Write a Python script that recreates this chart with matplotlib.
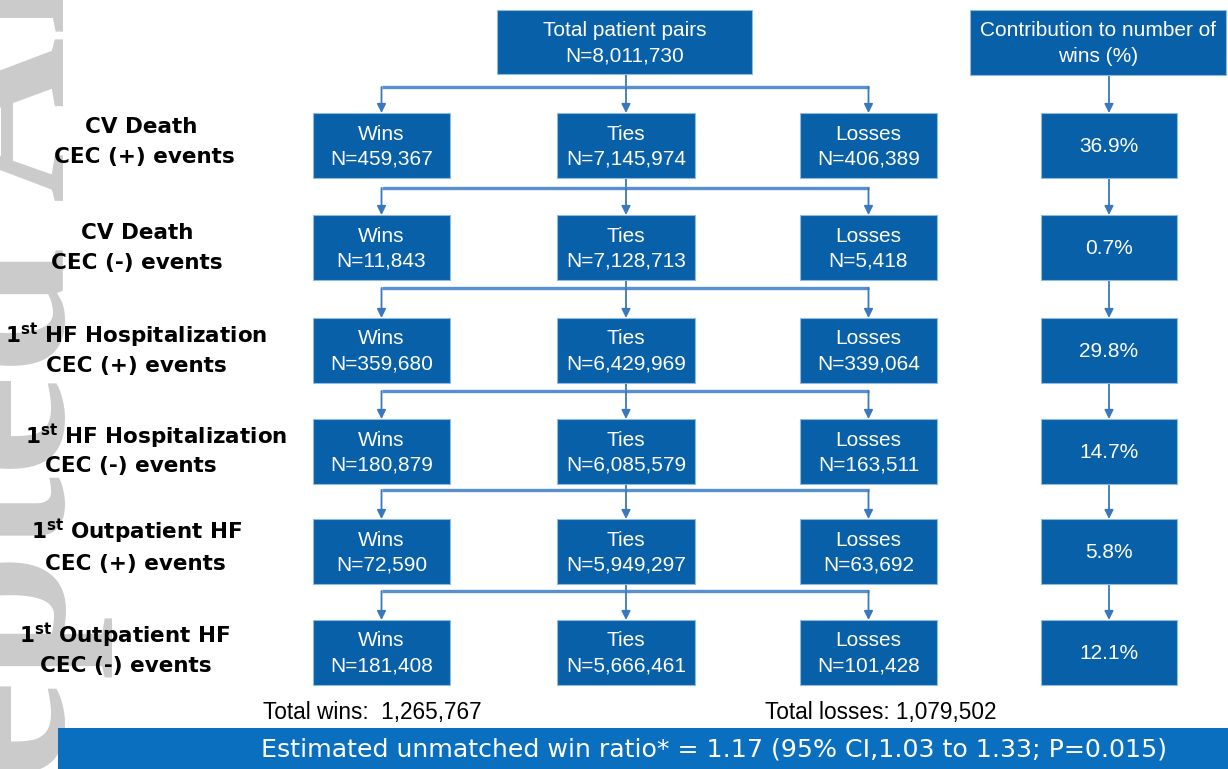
import matplotlib
matplotlib.use("Agg")
import matplotlib.pyplot as plt
from matplotlib.patches import Rectangle

# ---------------- data ----------------
row_line1 = ["CV Death", "CV Death", r"1$^{\mathbf{st}}$ HF Hospitalization",
             r"1$^{\mathbf{st}}$ HF Hospitalization", r"1$^{\mathbf{st}}$ Outpatient HF",
             r"1$^{\mathbf{st}}$ Outpatient HF"]
row_line2 = ["CEC (+) events", "CEC (-) events", "CEC (+) events",
             "CEC (-) events", "CEC (+) events", "CEC (-) events"]
wins = [459367, 11843, 359680, 180879, 72590, 181408]
ties = [7145974, 7128713, 6429969, 6085579, 5949297, 5666461]
losses = [406389, 5418, 339064, 163511, 63692, 101428]
contrib_pct = [36.9, 0.7, 29.8, 14.7, 5.8, 12.1]
total_pairs = 8011730
total_wins = 1265767
total_losses = 1079502
header_left = "Total patient pairs"
header_right = "Contribution to number of\nwins (%)"
banner_text = "Estimated unmatched win ratio* = 1.17 (95% CI,1.03 to 1.33; P=0.015)"
watermark = "Accepted Article"

# ---------------- style ----------------
BOX = "#0860a8"
EDGE = "#8fbbe3"
LINE = "#3a78bd"
LINE_H = "#5890cf"
BANNER = "#0b6fbf"
BOXFONT = "Liberation Sans"

fig = plt.figure(figsize=(12.28, 7.69), dpi=100)
ax = fig.add_axes([0, 0, 1, 1])
ax.set_xlim(0, 1228)
ax.set_ylim(769, 0)
ax.axis("off")

# watermark (partly outside the picture, as in the reference)
ax.text(64, 1150, watermark, rotation=90, rotation_mode="anchor", ha="left",
        va="baseline", fontsize=165, family="Liberation Serif", fontweight="bold",
        color="#cbcbcb", zorder=0)


def box(x0, x1, y0, y1, text, fs=15):
    ax.add_patch(Rectangle((x0, y0), x1 - x0, y1 - y0, facecolor=BOX,
                           edgecolor=EDGE, lw=0.8, zorder=2))
    ax.text((x0 + x1) / 2, (y0 + y1) / 2 + 1, text, ha="center", va="center",
            color="white", fontsize=fs, family=BOXFONT, linespacing=1.4,
            zorder=3)


def arrow(x, y_from, y_to):
    ax.annotate("", xy=(x, y_to), xytext=(x, y_from),
                arrowprops=dict(arrowstyle="-|>", color=LINE, lw=1.3,
                                mutation_scale=13, shrinkA=0, shrinkB=0),
                zorder=1)


def hline(x0, x1, y):
    ax.plot([x0, x1], [y, y], color=LINE_H, lw=2.4, solid_capstyle="butt", zorder=1)


fmt = lambda v: f"{v:,}"

# column geometry
col_x = [(313, 450), (557, 695), (800, 937)]
col_cx = [(a + b) / 2 for a, b in col_x]
right_x = (1041, 1177)
right_cx = 1109
row_top = [113, 215, 318, 419, 519, 620]
row_h = 65
conn_y = [87, 188, 288, 391, 490, 591]

# top boxes
box(497, 752, 10, 74, f"{header_left}\nN={fmt(total_pairs)}")
box(970, 1226, 10, 75, header_right)

# connectors
for i in range(len(wins)):
    src_bottom = 74 if i == 0 else row_top[i - 1] + row_h
    hy = conn_y[i]
    ax.plot([col_cx[1], col_cx[1]], [src_bottom, hy], color=LINE, lw=1.3, zorder=1)
    hline(col_cx[0], col_cx[2], hy)
    for cx in col_cx:
        arrow(cx, hy, row_top[i])
    rsrc = 75 if i == 0 else row_top[i - 1] + row_h
    arrow(right_cx, rsrc, row_top[i])

# boxes
for i in range(len(wins)):
    t, b = row_top[i], row_top[i] + row_h
    box(*col_x[0], t, b, f"Wins\nN={fmt(wins[i])}")
    box(*col_x[1], t, b, f"Ties\nN={fmt(ties[i])}")
    box(*col_x[2], t, b, f"Losses\nN={fmt(losses[i])}")
    box(*right_x, t, b, f"{contrib_pct[i]:.1f}%")

# row labels
l1_pos = [(141, 127), (137, 233), (136, 336), (156, 437), (137, 532), (125, 636)]
l2_pos = [(144, 157), (137, 263), (136, 366), (131, 466), (135, 564), (126, 666)]
for i in range(len(row_line1)):
    ax.text(*l1_pos[i], row_line1[i], ha="center", va="center", fontsize=15.5,
            fontweight="bold", color="black", zorder=3)
    ax.text(*l2_pos[i], row_line2[i], ha="center", va="center", fontsize=15.5,
            fontweight="bold", color="black", zorder=3)

# totals
ax.text(263, 713, f"Total wins:  {fmt(total_wins)}", ha="left", va="center",
        fontsize=16.3, family=BOXFONT, color="black")
ax.text(765, 713, f"Total losses: {fmt(total_losses)}", ha="left", va="center",
        fontsize=16.3, family=BOXFONT, color="black")

# banner
ax.add_patch(Rectangle((58, 728), 1228 - 58, 41, facecolor=BANNER, edgecolor="none",
                       zorder=1))
ax.text(714, 749, banner_text, ha="center", va="center", fontsize=18.2,
        family="DejaVu Sans", color="white", zorder=3)

fig.savefig("out.png", dpi=100)
